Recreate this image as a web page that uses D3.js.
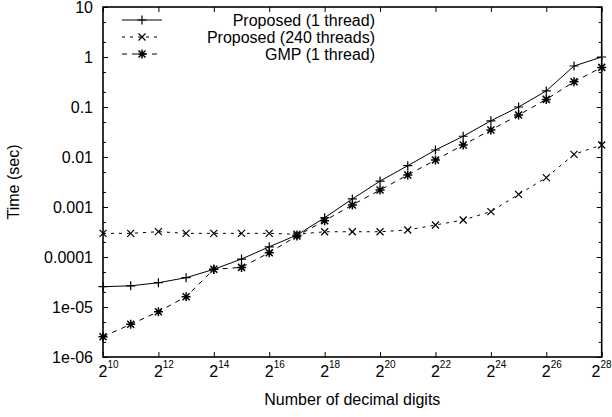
<!DOCTYPE html>
<html>
<head>
<meta charset="utf-8">
<script src="https://cdn.jsdelivr.net/npm/d3@7"></script>
<style>
  html, body { margin: 0; padding: 0; background: #fff; }
  svg { display: block; font-family: "Liberation Sans", Arial, Helvetica, sans-serif; }
</style>
</head>
<body>
<svg id="chart" width="612" height="417"></svg>
<script>
// ---- data ----
const exponents = [10, 11, 12, 13, 14, 15, 16, 17, 18, 19, 20, 21, 22, 23, 24, 25, 26, 27, 28];
const proposed1 = [2.55e-5, 2.65e-5, 3.06e-5, 3.86e-5, 5.67e-5, 9.1e-5, 1.6e-4, 2.75e-4, 6.1e-4, 1.45e-3, 3.3e-3, 6.7e-3, 0.0138, 0.026, 0.053, 0.10, 0.21, 0.66, 1.0];
const proposed240 = [2.97e-4, 2.97e-4, 3.21e-4, 2.97e-4, 2.97e-4, 2.97e-4, 2.97e-4, 2.85e-4, 3.2e-4, 3.2e-4, 3.2e-4, 3.47e-4, 4.37e-4, 5.5e-4, 8.07e-4, 1.79e-3, 3.86e-3, 0.0113, 0.0174];
const gmp1 = [2.55e-6, 4.5e-6, 8.07e-6, 1.61e-5, 5.67e-5, 6.2e-5, 1.22e-4, 2.63e-4, 5.33e-4, 1.1e-3, 2.19e-3, 4.37e-3, 8.7e-3, 0.0174, 0.0347, 0.069, 0.142, 0.32, 0.62];
const seriesNames = ["Proposed (1 thread)", "Proposed (240 threads)", "GMP (1 thread)"];
const xTickExponents = [10, 12, 14, 16, 18, 20, 22, 24, 26, 28];
const yTickValues = [1e-6, 1e-5, 1e-4, 1e-3, 1e-2, 1e-1, 1, 10];
const yTickLabels = ["1e-06", "1e-05", "0.0001", "0.001", "0.01", "0.1", "1", "10"];
const xTitle = "Number of decimal digits";
const yTitle = "Time (sec)";

// ---- layout ----
const L = 103, R = 601.7, T = 7, B = 357;
const svg = d3.select("#chart");
svg.append("rect").attr("width", 612).attr("height", 417).attr("fill", "#fff");

const x = d3.scaleLog().base(2).domain([2 ** 10, 2 ** 28]).range([L, R]);
const y = d3.scaleLog().domain([1e-6, 10]).range([B, T]);

const fontSize = 16;

// axes (ticks inward)
const xT = xTickExponents.map(e => 2 ** e);
const gB = svg.append("g").attr("transform", `translate(0,${B})`)
  .call(d3.axisBottom(x).tickValues(xT).tickSize(-5).tickFormat(""));
const gTop = svg.append("g").attr("transform", `translate(0,${T})`)
  .call(d3.axisTop(x).tickValues(xT).tickSize(-5).tickFormat(""));
const gL = svg.append("g").attr("transform", `translate(${L},0)`)
  .call(d3.axisLeft(y).tickValues(yTickValues).tickSize(-5).tickPadding(10)
    .tickFormat((d, i) => yTickLabels[i]));
const gR = svg.append("g").attr("transform", `translate(${R},0)`)
  .call(d3.axisRight(y).tickValues(yTickValues).tickSize(-5).tickFormat(""));

// minor y ticks at 2 and 5
const minor = [];
yTickValues.slice(0, -1).forEach(v => { minor.push(v * 2, v * 5); });
const gLm = svg.append("g").attr("transform", `translate(${L},0)`)
  .call(d3.axisLeft(y).tickValues(minor).tickSize(-3).tickFormat(""));
const gRm = svg.append("g").attr("transform", `translate(${R},0)`)
  .call(d3.axisRight(y).tickValues(minor).tickSize(-3).tickFormat(""));

[gB, gTop, gL, gR, gLm, gRm].forEach(g => {
  g.select(".domain").remove();
  g.selectAll(".tick line").attr("stroke", "#000").attr("stroke-width", 1);
});
gL.selectAll(".tick text").attr("font-size", fontSize).attr("fill", "#000")
  .attr("font-family", "Liberation Sans, Arial, sans-serif");

// x tick labels 2^n
xTickExponents.forEach((e, i) => {
  const px = x(2 ** e);
  const last = i === xTickExponents.length - 1;
  const t = svg.append("text").attr("y", B + 20)
    .attr("font-size", fontSize).attr("fill", "#000");
  if (last) t.attr("x", 611.5).attr("text-anchor", "end");
  else t.attr("x", px - 4.5).attr("text-anchor", "start");
  t.append("tspan").text("2");
  t.append("tspan").attr("font-size", 10).attr("dy", -9).text(e);
});

// border
svg.append("rect").attr("x", L).attr("y", T).attr("width", R - L).attr("height", B - T)
  .attr("fill", "none").attr("stroke", "#000").attr("stroke-width", 1.6);

// titles
svg.append("text").attr("x", (L + R) / 2).attr("y", 405).attr("text-anchor", "middle")
  .attr("font-size", fontSize).attr("fill", "#000").text(xTitle);
svg.append("text").attr("transform", `translate(19,${(T + B) / 2}) rotate(-90)`)
  .attr("text-anchor", "middle").attr("font-size", fontSize).attr("fill", "#000").text(yTitle);

// markers
const plusPath = s => `M${-s},0H${s}M0,${-s}V${s}`;
const crossPath = s => `M${-s},${-s}L${s},${s}M${-s},${s}L${s},${-s}`;
const markers = [plusPath(4.5), crossPath(3.5), plusPath(4.5) + crossPath(3.5)];
const dashes = [null, "3,5", "5,5"];
const seriesData = [proposed1, proposed240, gmp1];

const line = d3.line().x(d => x(2 ** d[0])).y(d => y(d[1]));

seriesData.forEach((vals, si) => {
  const pts = exponents.map((e, i) => [e, vals[i]]);
  svg.append("path").attr("d", line(pts)).attr("fill", "none")
    .attr("stroke", "#000").attr("stroke-width", 1)
    .attr("stroke-dasharray", dashes[si]);
  svg.append("g").selectAll("path").data(pts).join("path")
    .attr("transform", d => `translate(${x(2 ** d[0])},${y(d[1])})`)
    .attr("d", markers[si]).attr("fill", "none").attr("stroke", "#000")
    .attr("stroke-width", si === 2 ? 1.5 : 1.2);
});

// legend
const legY = [20, 37, 54];
seriesNames.forEach((name, si) => {
  const ly = legY[si];
  svg.append("line").attr("x1", 122).attr("x2", 162).attr("y1", ly).attr("y2", ly)
    .attr("stroke", "#000").attr("stroke-width", 1).attr("stroke-dasharray", dashes[si]);
  svg.append("path").attr("transform", `translate(142,${ly})`).attr("d", markers[si])
    .attr("fill", "none").attr("stroke", "#000").attr("stroke-width", si === 2 ? 1.5 : 1.2);
  svg.append("text").attr("x", 375).attr("y", ly).attr("dy", "0.35em")
    .attr("text-anchor", "end").attr("font-size", fontSize).attr("fill", "#000").text(name);
});
</script>
</body>
</html>
